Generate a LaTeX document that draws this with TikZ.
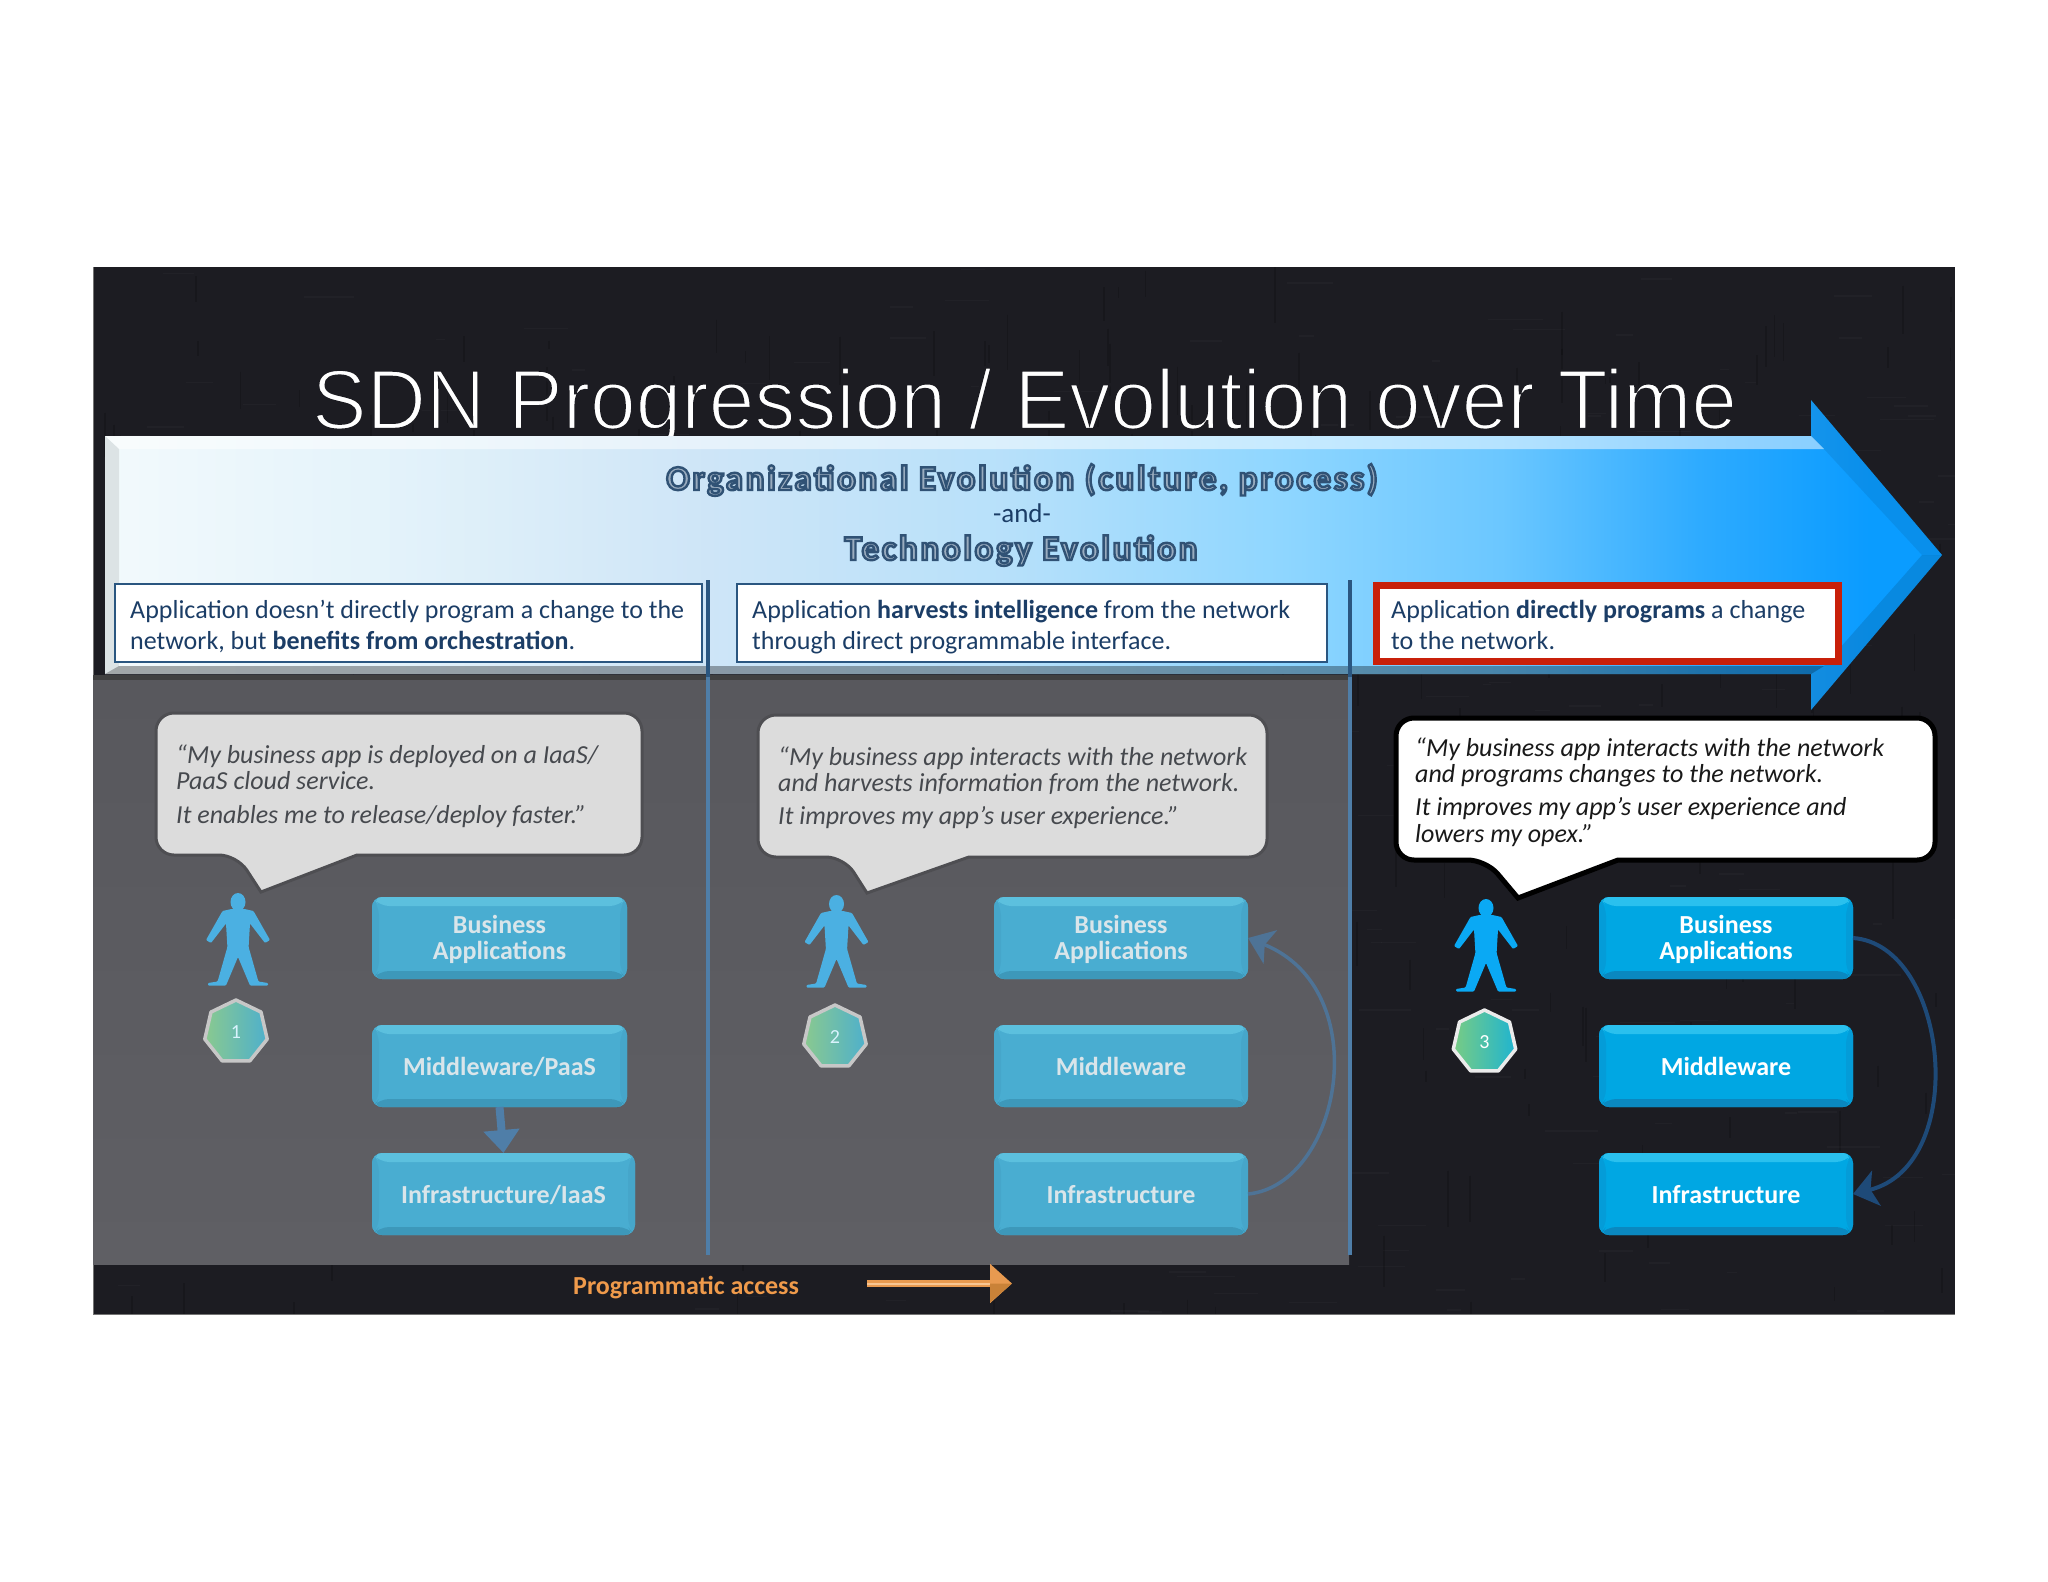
\documentclass[tikz,border=0pt]{standalone}
\usepackage{fontspec}
\usepackage{graphicx}
\setmainfont{Carlito}[Ligatures=TeX]
\newfontfamily\titlefont{Liberation Sans}
\newfontfamily\headfont{Carlito Bold}[LetterSpace=7.5,Ligatures=Common]
\usetikzlibrary{arrows.meta,shapes.geometric,calc}
\definecolor{slidebg}{HTML}{1C1C22}
\definecolor{navy}{HTML}{1B3D66}
\definecolor{sepdark}{HTML}{2A5680}
\definecolor{seplight}{HTML}{4F7EA8}
\definecolor{redbox}{HTML}{C8200A}
\definecolor{bubblegray}{HTML}{DCDCDC}
\definecolor{bubbleedge}{HTML}{4E4E52}
\definecolor{qtext}{HTML}{46494E}
\definecolor{appA}{HTML}{49ADD1}
\definecolor{appAt}{HTML}{5CC0DE}
\definecolor{appAb}{HTML}{3D98BA}
\definecolor{appAs}{HTML}{46A6CA}
\definecolor{appB}{HTML}{00A7E3}
\definecolor{appBt}{HTML}{2AC0EE}
\definecolor{appBb}{HTML}{0A88C0}
\definecolor{appBs}{HTML}{049CD8}
\definecolor{appAtext}{HTML}{D9E5EA}
\definecolor{personA}{HTML}{4BB0E2}
\definecolor{personB}{HTML}{0AA9F4}
\definecolor{curveA}{HTML}{4E7396}
\definecolor{curveB}{HTML}{1E4A78}
\definecolor{orangeA}{HTML}{E89A50}
\definecolor{orangeL}{HTML}{F7C592}
\definecolor{orangeD}{HTML}{C98238}
\definecolor{orangeT}{HTML}{EF9A4B}
\definecolor{hepLA}{HTML}{8AC98F}
\definecolor{hepRA}{HTML}{4EB0CC}
\definecolor{hepLB}{HTML}{78CC84}
\definecolor{hepRB}{HTML}{1FB4D0}
\definecolor{panelT}{HTML}{58585D}
\definecolor{panelB}{HTML}{5F5F64}
\definecolor{headfill}{HTML}{9AACBF}
\pgfdeclarehorizontalshading{bigarrow}{100bp}{
 rgb(0bp)=(0.95,0.98,0.99);
 rgb(25bp)=(0.95,0.98,0.99);
 rgb(33bp)=(0.89,0.95,0.98);
 rgb(41.2bp)=(0.81,0.90,0.97);
 rgb(49.4bp)=(0.72,0.88,0.98);
 rgb(57bp)=(0.56,0.84,1.00);
 rgb(63bp)=(0.42,0.78,1.00);
 rgb(68.4bp)=(0.18,0.67,1.00);
 rgb(73bp)=(0.04,0.61,1.00);
 rgb(100bp)=(0.04,0.61,1.00)}
\newcommand{\thintitle}[1]{\special{pdf:code 2 Tr 2.4 w 0.11 0.11 0.133 RG}#1\special{pdf:code 0 Tr 1 w}}
\newcommand{\outlined}[1]{\special{pdf:code 2 Tr 2.4 w 0.19 0.32 0.46 RG}#1\special{pdf:code 0 Tr 1 w}}
\newcommand{\bevelpic}[3]{%
 \fill[#1] (path picture bounding box.north west) -- (path picture bounding box.north east) -- ([shift={(-7pt,-9pt)}]path picture bounding box.north east) -- ([shift={(7pt,-9pt)}]path picture bounding box.north west) -- cycle;
 \fill[#2] (path picture bounding box.south west) -- (path picture bounding box.south east) -- ([shift={(-7pt,8pt)}]path picture bounding box.south east) -- ([shift={(7pt,8pt)}]path picture bounding box.south west) -- cycle;
 \fill[#3] (path picture bounding box.north west) -- ([shift={(7pt,-9pt)}]path picture bounding box.north west) -- ([shift={(7pt,8pt)}]path picture bounding box.south west) -- (path picture bounding box.south west) -- cycle;
 \fill[#3] (path picture bounding box.north east) -- ([shift={(-7pt,-9pt)}]path picture bounding box.north east) -- ([shift={(-7pt,8pt)}]path picture bounding box.south east) -- (path picture bounding box.south east) -- cycle;
}
\newcommand{\person}[3]{%
 \begin{scope}[shift={(#1,#2)}]
 \fill[#3] (0,9) ellipse [x radius=7.5pt, y radius=9pt];
 \fill[#3,rounded corners=1pt] (6.5,16) -- (15.5,18) -- (32,47) -- (27,50) -- (12,30.5) -- (10.6,54) -- (20.4,88.5) -- (30,90) -- (30,92.5) -- (12,92.5) -- (0,64) -- (-12,92.5) -- (-30,92.5) -- (-30,90) -- (-20.4,88.5) -- (-10.6,54) -- (-12,30.5) -- (-27,50) -- (-32,47) -- (-15.5,18) -- (-6.5,16) -- cycle;
 \end{scope}}
\newcommand{\bubblepath}[8]{(#6,#4) [rounded corners=18pt] -- (#3,#4) -- (#3,#2) -- (#1,#2) -- (#1,#4) -- (#5,#4) [sharp corners] -- (#7,#8) -- cycle}
\tikzset{
 appbase/.style={rounded corners=10pt,inner sep=0pt,outer sep=0pt,minimum height=82pt,align=center,font=\bfseries\fontsize{26}{26}\selectfont},
 oneline/.style={text height=20pt,text depth=2pt},
 twoline/.style={text height=44pt,text depth=2pt},
 appA/.style={appbase,fill=appA,text=appAtext,path picture={\bevelpic{appAt}{appAb}{appAs}}},
 appB/.style={appbase,fill=appB,text=white,path picture={\bevelpic{appBt}{appBb}{appBs}}},
 boxtext/.style={anchor=base west,inner sep=0pt,align=left,text=navy,font=\fontsize{26}{31}\selectfont},
 quotetext/.style={anchor=base west,inner sep=0pt,align=left,font=\itshape\fontsize{26}{26}\selectfont},
 whitebox/.style={fill=white,draw=#1,line width=1.3pt},
 heading/.style={inner sep=0pt,anchor=base,text=headfill,font=\headfont\fontsize{35}{38}\selectfont},
 hepta/.style={regular polygon,regular polygon sides=7,minimum size=64pt,inner sep=0pt,outer sep=0pt,line join=round,line width=3.5pt,font=\fontsize{20}{20}\selectfont,shade,shading=axis,shading angle=20},
 sepline/.style={line width=4pt},
}
\begin{document}
\begin{tikzpicture}[x=1pt,y=-1pt]
\useasboundingbox (0,0) rectangle (2048,1582);
\fill[white] (0,0) rectangle (2048,1582);
\fill[slidebg] (93,267) rectangle (1955,1314);
\pgfmathsetseed{7}
\begin{scope}
\clip (93,267) rectangle (1955,1314);
\foreach \i in {1,...,320}{
 \pgfmathsetmacro{\xa}{93+rnd*1862}
 \pgfmathsetmacro{\ya}{267+rnd*1047}
 \pgfmathsetmacro{\la}{8+rnd*50}
 \draw[black,opacity=.16,line width=1.6pt] (\xa,\ya) -- ++(0,\la);
 \pgfmathsetmacro{\xb}{93+rnd*1862}
 \pgfmathsetmacro{\yb}{267+rnd*1047}
 \draw[white,opacity=.025,line width=1.4pt] (\xb,\yb) -- ++(\la,0);
}
\end{scope}
\draw[black!55,line width=1pt] (93,267) -- (93,1314) -- (1955,1314);
% grey panel
\shade[top color=panelT,bottom color=panelB] (93,677) rectangle (1349,1264);
\fill[black!75] (93,675) rectangle (1349,680);
% title
\node[inner sep=0pt,anchor=base,text=white,font=\titlefont\fontsize{85}{90}\selectfont] (title) at (1024.5,429) {\scalebox{0.966}[1]{\thintitle{SDN Progression / Evolution over Time}}};
% big arrow
\shade[shading=bigarrow] (105,436) -- (1811,436) -- (1811,400) -- (1942,555) -- (1811,710) -- (1811,674) -- (105,674) -- cycle;
\fill[white,opacity=.5] (105,436) -- (1811,436) -- (1824,449) -- (119,449) -- cycle;
\fill[black,opacity=.33] (105,674) -- (1811,674) -- (1824,666) -- (119,666) -- cycle;
\fill[black,opacity=.09] (105,436) -- (119,449) -- (119,666) -- (105,674) -- cycle;
\fill[black,opacity=.08] (1811,400) -- (1942,555) -- (1922,555) -- (1824,449) -- (1811,436) -- cycle;
\fill[black,opacity=.12] (1811,710) -- (1942,555) -- (1922,555) -- (1824,666) -- (1811,674) -- cycle;
% headings
\node[heading] (head1) at (1022,490) {\outlined{Organizational Evolution (culture, process)}};
\node[inner sep=0pt,anchor=base,text=navy,font=\fontsize{27}{30}\selectfont] (and) at (1022,522) {-and-};
\node[heading] (head2) at (1021,560) {\outlined{Technology Evolution}};
% separators
\draw[sepline,sepdark] (708,580) -- (708,677);
\draw[sepline,seplight] (708,677) -- (708,1255);
\draw[sepline,sepdark] (1350,580) -- (1350,677);
\draw[sepline,seplight] (1350,677) -- (1350,1255);
% description boxes
\draw[whitebox=sepdark] (115,584) rectangle (702,662);
\draw[whitebox=sepdark] (737,584) rectangle (1327,662);
\draw[fill=white,draw=redbox,line width=7pt] (1376.5,585.5) rectangle (1838.5,661.5);
\node[boxtext] (t1) at (130,649) {Application doesn’t directly program a change to the\\network, but \textbf{benefits from orchestration}.};
\node[boxtext] (t2) at (752,649) {Application \textbf{harvests intelligence} from the network\\through direct programmable interface.};
\node[boxtext] (t3) at (1391,649) {Application \textbf{directly programs} a change\\to the network.};
% bubbles
\draw[fill=bubblegray,draw=bubbleedge,line width=3pt] \bubblepath{156}{713}{642}{855}{237}{357}{261}{892};
\draw[fill=bubblegray,draw=bubbleedge,line width=3pt] \bubblepath{758}{715}{1267}{857}{844}{969}{867}{893};
\draw[fill=white,draw=black,line width=5pt] \bubblepath{1396}{718}{1935}{860}{1486}{1618}{1518}{898};
\node[quotetext,text=qtext] (q1) at (176,823) {“My business app is deployed on a IaaS/\\PaaS cloud service.\\[8pt]It enables me to release/deploy faster.”};
\node[quotetext,text=qtext] (q2) at (778,824) {“My business app interacts with the network\\and harvests information from the network.\\[7pt]It improves my app’s user experience.”};
\node[quotetext,text=black!90] (q3) at (1415,842) {“My business app interacts with the network\\and programs changes to the network.\\[7pt]It improves my app’s user experience and\\[1pt]lowers my opex.”};
% people
\person{238}{893}{personA}
\person{836.5}{895}{personA}
\person{1486}{899}{personB}
% badges
\node[hepta,left color=hepLA,right color=hepRA,draw=black!22,text=white!85!cyan] (h1) at (236,1032) {1};
\node[hepta,left color=hepLA,right color=hepRA,draw=black!22,text=white!85!cyan] (h2) at (835,1037) {2};
\node[hepta,left color=hepLB,right color=hepRB,draw=black!8,text=white] (h3) at (1484.5,1042) {3};
% app boxes
\node[appA,twoline,minimum width=255pt] (ba1) at (499.5,938) {Business\\Applications};
\node[appA,oneline,minimum width=255pt] (mw1) at (499.5,1066) {Middleware/PaaS};
\node[appA,oneline,minimum width=263pt] (inf1) at (503.5,1194) {Infrastructure/IaaS};
\node[appA,twoline,minimum width=254pt] (ba2) at (1121,938) {Business\\Applications};
\node[appA,oneline,minimum width=254pt] (mw2) at (1121,1066) {Middleware};
\node[appA,oneline,minimum width=254pt] (inf2) at (1121,1194) {Infrastructure};
\node[appB,twoline,minimum width=254pt] (ba3) at (1726,938) {Business\\Applications};
\node[appB,oneline,minimum width=254pt] (mw3) at (1726,1066) {Middleware};
\node[appB,oneline,minimum width=254pt] (inf3) at (1726,1194) {Infrastructure};
% connectors
\draw[seplight,line width=8pt,-{Triangle[length=23pt,width=35pt]}] (mw1.south) -- (inf1.north);
\draw[curveA,line width=3.5pt,-{Stealth[length=24pt,width=36pt,inset=6pt]}] (inf2.east) .. controls (1341,1185) and (1377,990) .. (ba2.east);
\draw[curveB,line width=4pt,-{Stealth[length=24pt,width=36pt,inset=6pt]}] (ba3.east) .. controls (1949,945) and (1970,1165) .. (inf3.east);
% programmatic access
\node[inner sep=0pt,anchor=base west,text=orangeT,font=\bfseries\fontsize{26}{30}\selectfont] (prog) at (573,1294) {Programmatic access};
\coordinate (pa) at (867,1283.5);
\coordinate (pb) at (1012,1283.5);
\draw[orangeA,line width=7pt,-{Triangle[length=22pt,width=38pt]}] (pa) -- (pb);
\draw[orangeL,line width=2pt] (pa) -- ([xshift=-22pt]pb);
\fill[orangeD] (pb) -- ([xshift=-22pt]pb) -- ([shift={(-22pt,-19pt)}]pb) -- cycle;
\end{tikzpicture}
\end{document}
